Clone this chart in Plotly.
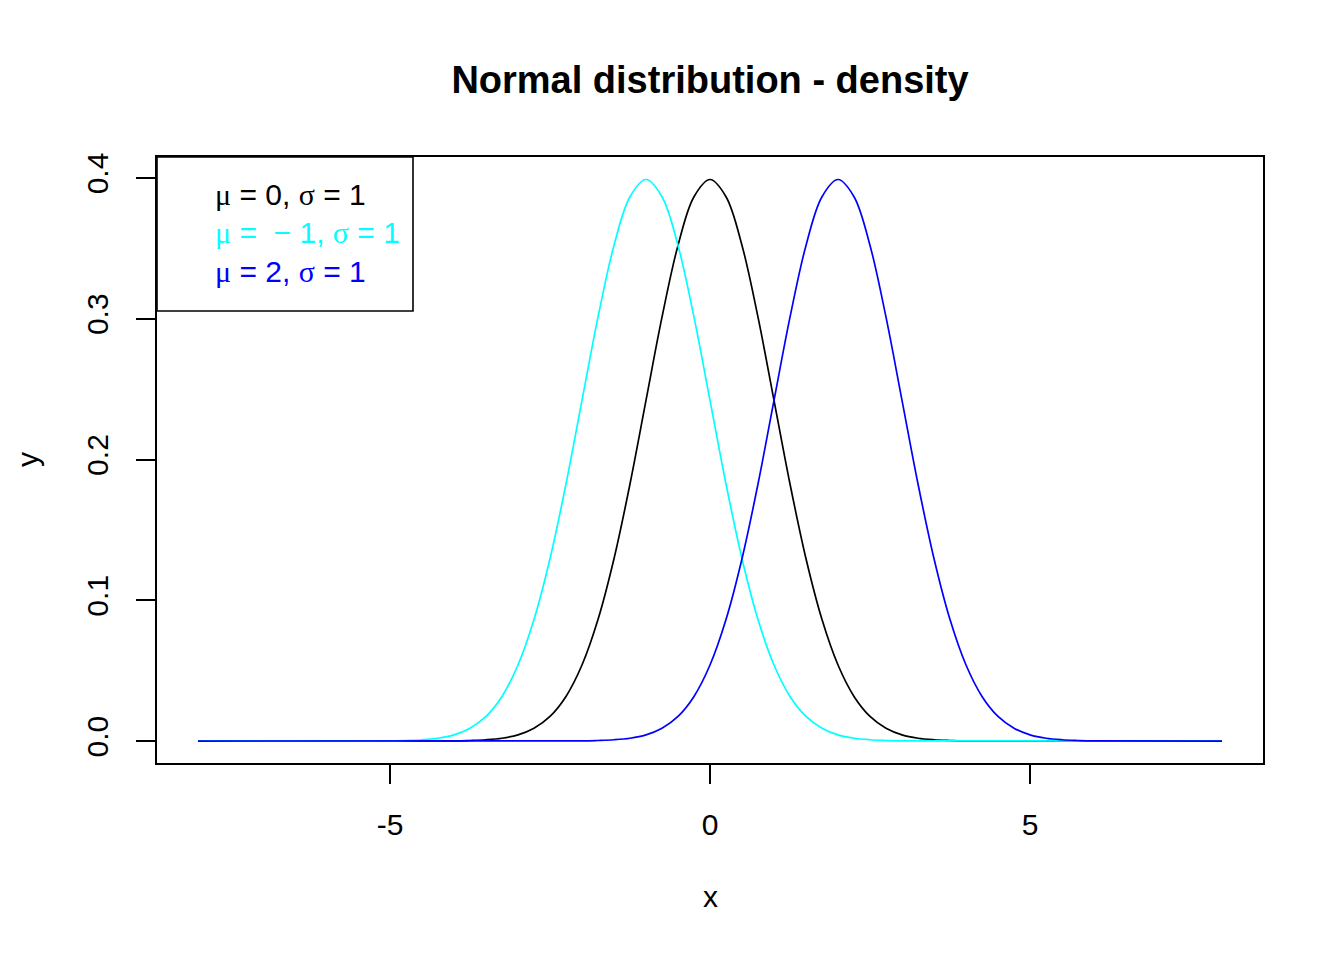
import plotly.graph_objects as go

# density curves, step 0.25 around each peak
x_mu0 = [-8.0, -4.0, -3.75, -3.5, -3.25, -3.0, -2.75, -2.5, -2.25, -2.0, -1.75,
         -1.5, -1.25, -1.0, -0.75, -0.5, -0.25, 0.0, 0.25, 0.5, 0.75, 1.0, 1.25,
         1.5, 1.75, 2.0, 2.25, 2.5, 2.75, 3.0, 3.25, 3.5, 3.75, 4.0, 8.0]
y_mu0 = [0.0, 0.0001, 0.0004, 0.0009, 0.0020, 0.0044, 0.0091, 0.0175, 0.0317,
         0.0540, 0.0863, 0.1295, 0.1826, 0.2420, 0.3011, 0.3521, 0.3867, 0.3989,
         0.3867, 0.3521, 0.3011, 0.2420, 0.1826, 0.1295, 0.0863, 0.0540, 0.0317,
         0.0175, 0.0091, 0.0044, 0.0020, 0.0009, 0.0004, 0.0001, 0.0]

x_mu_m1 = [-8.0, -5.0, -4.75, -4.5, -4.25, -4.0, -3.75, -3.5, -3.25, -3.0, -2.75,
           -2.5, -2.25, -2.0, -1.75, -1.5, -1.25, -1.0, -0.75, -0.5, -0.25, 0.0,
           0.25, 0.5, 0.75, 1.0, 1.25, 1.5, 1.75, 2.0, 2.25, 2.5, 2.75, 3.0, 8.0]
y_mu_m1 = [0.0, 0.0001, 0.0004, 0.0009, 0.0020, 0.0044, 0.0091, 0.0175, 0.0317,
           0.0540, 0.0863, 0.1295, 0.1826, 0.2420, 0.3011, 0.3521, 0.3867, 0.3989,
           0.3867, 0.3521, 0.3011, 0.2420, 0.1826, 0.1295, 0.0863, 0.0540, 0.0317,
           0.0175, 0.0091, 0.0044, 0.0020, 0.0009, 0.0004, 0.0001, 0.0]

x_mu2 = [-8.0, -2.0, -1.75, -1.5, -1.25, -1.0, -0.75, -0.5, -0.25, 0.0, 0.25,
         0.5, 0.75, 1.0, 1.25, 1.5, 1.75, 2.0, 2.25, 2.5, 2.75, 3.0, 3.25, 3.5,
         3.75, 4.0, 4.25, 4.5, 4.75, 5.0, 5.25, 5.5, 5.75, 6.0, 8.0]
y_mu2 = [0.0, 0.0001, 0.0004, 0.0009, 0.0020, 0.0044, 0.0091, 0.0175, 0.0317,
         0.0540, 0.0863, 0.1295, 0.1826, 0.2420, 0.3011, 0.3521, 0.3867, 0.3989,
         0.3867, 0.3521, 0.3011, 0.2420, 0.1826, 0.1295, 0.0863, 0.0540, 0.0317,
         0.0175, 0.0091, 0.0044, 0.0020, 0.0009, 0.0004, 0.0001, 0.0]

series = [(x_mu0, y_mu0), (x_mu_m1, y_mu_m1), (x_mu2, y_mu2)]
colors = ["black", "#00FFFF", "#0000FF"]

SERIF = '<span style="font-family:Liberation Serif">'
labels = [SERIF + "\u03bc</span> = 0, " + SERIF + "\u03c3</span> = 1",
          SERIF + "\u03bc</span> =  \u2212 1, " + SERIF + "\u03c3</span> = 1",
          SERIF + "\u03bc</span> = 2, " + SERIF + "\u03c3</span> = 1"]

x_ticks = [-5, 0, 5]
x_ticktext = ["-5", "0", "5"]
y_ticks = [0.0, 0.1, 0.2, 0.3, 0.4]
y_ticktext = ["0.0", "0.1", "0.2", "0.3", "0.4"]

FONT = "Liberation Sans, Arial, sans-serif"
SHIFT = 8  # page body margin pushes the figure right/down

fig = go.Figure()
for (xs, ys), c in zip(series, colors):
    fig.add_trace(go.Scatter(x=xs, y=ys, mode="lines",
                             line=dict(color=c, width=1.7, shape="spline"),
                             showlegend=False))

# legend box + text, like R's legend("topleft")
fig.add_shape(type="rect", xref="paper", yref="paper",
              x0=0, x1=(413 - 157) / 1106, y0=(763 - 311) / 606, y1=1,
              line=dict(color="black", width=1.6), fillcolor="white", layer="below")
legend_y = [(763 - 194) / 606, (763 - 233) / 606, (763 - 271) / 606]
for lab, c, yy in zip(labels, colors, legend_y):
    fig.add_annotation(text=lab, xref="paper", yref="paper",
                       x=(213 - 157) / 1106, y=yy, xanchor="left", yanchor="middle",
                       showarrow=False, font=dict(family=FONT, size=30, color=c))

# axis titles
fig.add_annotation(text="x", xref="paper", yref="paper", x=0.5,
                   y=(763 - 896) / 606, xanchor="center", yanchor="middle",
                   showarrow=False, font=dict(family=FONT, size=30))
fig.add_annotation(text="y", xref="paper", yref="paper", x=(27 - 157) / 1106,
                   y=0.5, xanchor="center", yanchor="middle", textangle=-90,
                   showarrow=False, font=dict(family=FONT, size=30))

fig.update_layout(
    width=1344, height=960,
    margin=dict(l=157 - SHIFT, r=81 + SHIFT, t=157 - SHIFT, b=197 + SHIFT),
    plot_bgcolor="white", paper_bgcolor="white",
    font=dict(family=FONT, size=30, color="black"),
    title=dict(text="<b>Normal distribution - density</b>",
               x=0.5, xref="paper", y=1 - (80 - SHIFT) / 960, yref="container",
               xanchor="center", yanchor="middle",
               font=dict(family=FONT, size=38, color="black")),
)
fig.update_xaxes(range=[-8.64, 8.64], showgrid=False, zeroline=False,
                 showline=True, mirror=True, linecolor="black", linewidth=1.6,
                 ticks="outside", tickvals=x_ticks, ticktext=x_ticktext,
                 ticklen=19, tickwidth=1.6, tickcolor="black",
                 ticklabelstandoff=15)
fig.update_yaxes(range=[-0.0156, 0.4149], showgrid=False, zeroline=False,
                 showline=True, mirror=True, linecolor="black", linewidth=1.6,
                 ticks="outside", tickvals=y_ticks, ticktext=y_ticktext,
                 ticklen=19, tickwidth=1.6, tickcolor="black", tickangle=-90,
                 ticklabelstandoff=16)

fig.write_html("out.html")
